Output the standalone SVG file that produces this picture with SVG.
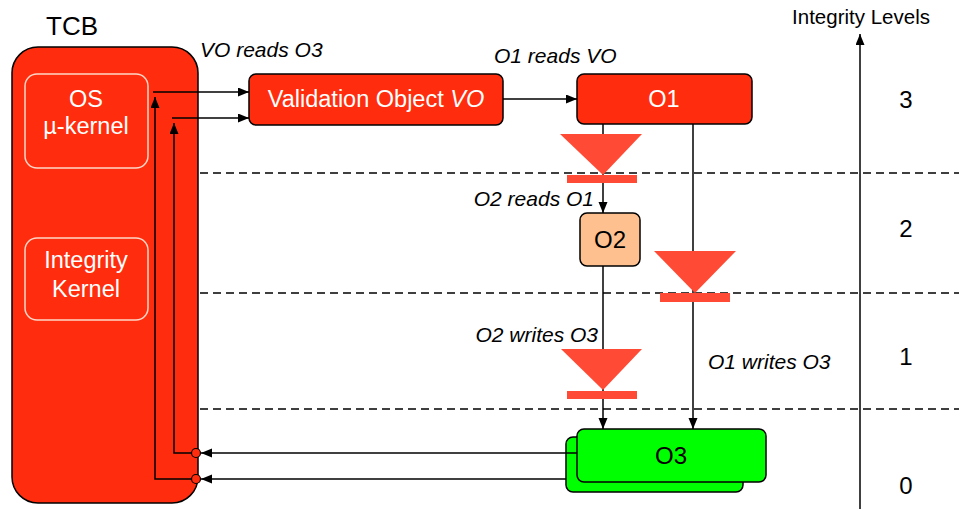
<svg xmlns="http://www.w3.org/2000/svg" width="959" height="509" viewBox="0 0 959 509">
<style>
text{font-family:"Liberation Sans",Arial,sans-serif}
.lbl{font-size:21px;font-style:italic;fill:#000}
.wt{fill:#fff;font-size:23.5px;text-anchor:middle}
.bt{fill:#000;font-size:24px;text-anchor:middle}
.ln{stroke:#000;stroke-width:1.5;fill:none}
.dash{stroke:#000;stroke-width:1.5;stroke-dasharray:8 5;fill:none}
.red{fill:#ff2d0d;stroke:#000;stroke-width:1.5}
.inner{fill:none;stroke:#ffd6c8;stroke-width:1.5}
.filt{fill:#ff4b35}
.num{font-size:24px;fill:#000;text-anchor:middle}
</style>
<defs>
<marker id="ah" markerUnits="userSpaceOnUse" markerWidth="12" markerHeight="10" refX="11" refY="4.5" orient="auto">
<path d="M0,0 L11,4.5 L0,9 z" fill="#000"/>
</marker>
</defs>
<rect width="959" height="509" fill="#fff"/>
<g id="levels">
<line class="dash" x1="200" y1="173" x2="959" y2="173"/>
<line class="dash" x1="200" y1="293" x2="959" y2="293"/>
<line class="dash" x1="200" y1="409" x2="959" y2="409"/>
</g>
<g id="tcb">
<text x="72" y="35" font-size="26" text-anchor="middle" fill="#000">TCB</text>
<rect class="red" x="12" y="47" width="186" height="456" rx="26"/>
</g>
<g id="os-kernel">
<rect class="inner" x="25" y="74" width="123" height="94" rx="12"/>
<text class="wt" x="86" y="107">OS</text>
<text class="wt" x="86" y="134">µ-kernel</text>
</g>
<g id="integrity-kernel">
<rect class="inner" x="25" y="238" width="123" height="82" rx="12"/>
<text class="wt" x="86" y="268">Integrity</text>
<text class="wt" x="86" y="297">Kernel</text>
</g>
<g id="vo">
<rect class="red" x="249" y="74" width="254" height="51" rx="7"/>
<text class="wt" x="376" y="107" font-size="24">Validation Object <tspan font-style="italic">VO</tspan></text>
</g>
<g id="o1">
<rect class="red" x="577" y="74" width="175" height="50" rx="7"/>
<text class="wt" x="664" y="107">O1</text>
</g>
<g id="o2">
<rect x="580" y="213" width="60" height="53" rx="7" fill="#ffc090" stroke="#000" stroke-width="1.5"/>
<text class="bt" x="610" y="248">O2</text>
</g>
<g id="o3">
<rect x="566" y="437" width="177" height="55" rx="7" fill="#00ff00" stroke="#000" stroke-width="1.5"/>
<rect x="577" y="429" width="189" height="53" rx="7" fill="#00ff00" stroke="#000" stroke-width="1.5"/>
<text class="bt" x="671" y="464">O3</text>
</g>
<g id="connectors">
<path class="ln" d="M196,479 H155 V97" marker-end="url(#ah)"/>
<path class="ln" d="M153,92 H249" marker-end="url(#ah)"/>
<path class="ln" d="M196,453 H174 V123" marker-end="url(#ah)"/>
<path class="ln" d="M172,118 H249" marker-end="url(#ah)"/>
<path class="ln" d="M577,453 H201" marker-end="url(#ah)"/>
<path class="ln" d="M566,479 H201" marker-end="url(#ah)"/>
<circle cx="196" cy="453" r="4.5" fill="#ff2d0d" stroke="#000" stroke-width="1.2"/>
<circle cx="196" cy="479" r="4.5" fill="#ff2d0d" stroke="#000" stroke-width="1.2"/>
<path class="ln" d="M503,99 H577" marker-end="url(#ah)"/>
<path class="ln" d="M603,124 V213" marker-end="url(#ah)"/>
<path class="ln" d="M603,266 V429" marker-end="url(#ah)"/>
<path class="ln" d="M693,124 V429" marker-end="url(#ah)"/>
</g>
<g id="filters">
<path class="filt" d="M560,134 H642 L603,175 z"/>
<rect class="filt" x="567" y="175" width="70" height="8"/>
<path class="filt" d="M654,251 H736 L695,293 z"/>
<rect class="filt" x="660" y="293" width="70" height="9"/>
<path class="filt" d="M561,349 H642 L603,390 z"/>
<rect class="filt" x="567" y="391" width="70" height="8"/>
</g>
<g id="labels">
<text class="lbl" x="200" y="57">VO reads O3</text>
<text class="lbl" x="494" y="63">O1 reads VO</text>
<text class="lbl" x="594" y="206" text-anchor="end">O2 reads O1</text>
<text class="lbl" x="598" y="342" text-anchor="end">O2 writes O3</text>
<text class="lbl" x="708" y="369">O1 writes O3</text>
</g>
<g id="axis">
<path class="ln" d="M860,509 V34" marker-end="url(#ah)"/>
<text x="861" y="24" font-size="20.5" text-anchor="middle" fill="#000">Integrity Levels</text>
<text class="num" x="906" y="108">3</text>
<text class="num" x="906" y="237">2</text>
<text class="num" x="906" y="365">1</text>
<text class="num" x="906" y="494">0</text>
</g>
</svg>
